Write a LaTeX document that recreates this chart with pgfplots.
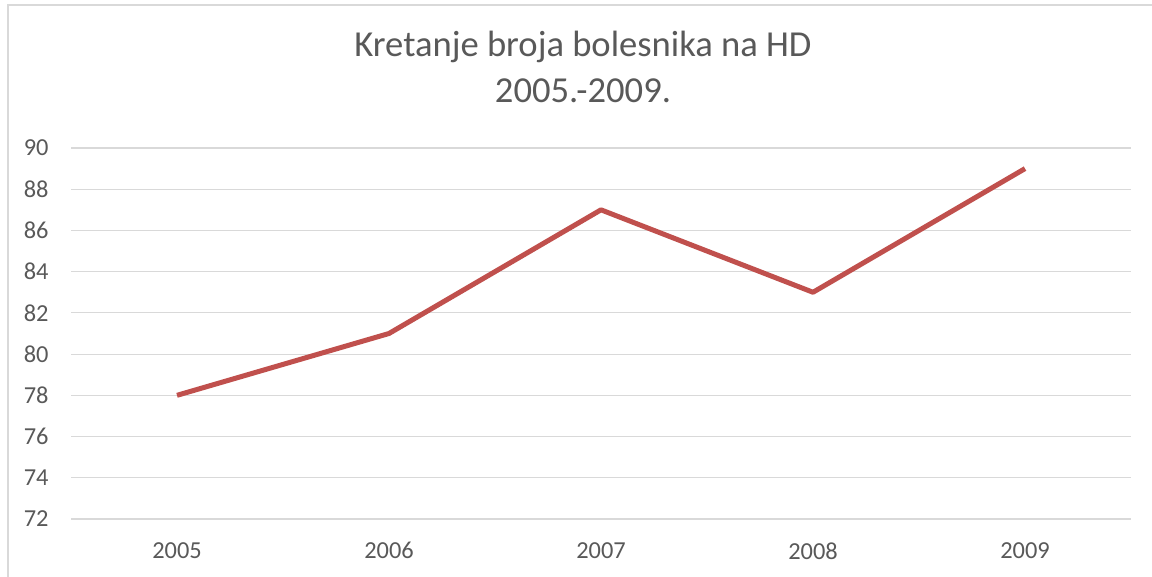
\documentclass[border=0pt]{standalone}
\usepackage{pgfplots}
\pgfplotsset{compat=1.18}
\usepackage{fontspec}
\setmainfont{Carlito}
\definecolor{linered}{HTML}{C0504D}
\definecolor{gridgray}{HTML}{D9D9D9}
\definecolor{txtgray}{HTML}{595959}
\begin{document}
\begin{tikzpicture}
\useasboundingbox (0,0) rectangle (576pt,288.5pt);
\draw[gridgray, line width=1pt] (4pt,0) -- (4pt,286pt) -- (576pt,286pt);
\begin{axis}[
  at={(35.5pt,29pt)}, anchor=south west,
  scale only axis, width=530pt, height=185.5pt,
  xmin=-0.5, xmax=4.5, ymin=72, ymax=90,
  xtick={0,1,2,3,4},
  xticklabels={2005,2006,2007,2008,2009},
  ytick={72,74,...,90},
  axis line style={draw=none},
  major tick length=0pt,
  ymajorgrids, grid style={gridgray, line width=0.6pt},
  /pgf/number format/assume math mode=true,
  tick label style={font=\fontsize{12.2pt}{14pt}\selectfont, text=txtgray},
  yticklabel style={inner sep=0pt, anchor=east, xshift=-11pt},
  xticklabel style={inner sep=0pt, anchor=north, yshift=-11.5pt},
  clip=false,
]
\addplot[linered, line width=2.5pt, line join=round] coordinates {
 (0,78) (1,81) (2,87) (3,83) (4,89)
};
\end{axis}
\node[anchor=base, text=txtgray, font=\fontsize{18.3pt}{22pt}\selectfont, inner sep=0pt] at (291.5pt,260pt) {Kretanje broja bolesnika na HD};
\node[anchor=base, text=txtgray, font=\fontsize{18.3pt}{22pt}\selectfont, inner sep=0pt] at (291.5pt,237pt) {2005.-2009.};
\end{tikzpicture}
\end{document}
